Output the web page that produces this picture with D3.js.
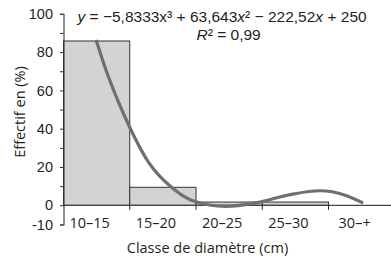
<!DOCTYPE html>
<html><head><meta charset="utf-8">
<script src="https://cdn.jsdelivr.net/npm/d3@7/dist/d3.min.js"></script>
<style>
html,body{margin:0;padding:0;background:#fff;}
svg{display:block;}
</style></head>
<body>
<svg id="c" width="391" height="264"></svg>
<script>
const categories = ["10–15","15–20","20–25","25–30","30–+"];
const values = [85.8, 9.4, 1.7, 1.7, 0];
const yTickValues = [-10,0,10,20,30,40,50,60,70,80,90,100];
const yTickLabels = [-10,0,20,40,60,80,100];
// trend curve (x in class index, y in %)
const curveX = [1.0, 1.13, 1.33, 1.51, 1.79, 2.17, 2.47, 2.95, 3.43, 3.93, 4.38, 4.76, 5.03];
const curveY = [86.3, 72.5, 54.5, 40.5, 22.5, 8.5, 2.2, -0.6, 1.4, 5.6, 7.6, 5.3, 1.2];
const equation = "y = −5,8333x³ + 63,643x² − 222,52x + 250";
const rSquared = "R² = 0,99";
const xTitle = "Classe de diamètre (cm)";
const yTitle = "Effectif en (%)";

const svg = d3.select("#c");
const left = 63, bw = 66.25;
const right = left + bw * categories.length;
const y = d3.scaleLinear().domain([-10, 100]).range([224.45, 13.8]);
const x = d3.scaleBand().domain(categories).range([left, right]).padding(0);
const xc = d3.scaleLinear().domain([0.5, categories.length + 0.5]).range([left, right]);

const txt = "#231f20";
const sans = "'Open Sans', 'Noto Sans', sans-serif";
const arial = "'Liberation Sans', Arial, sans-serif";

// bars
svg.append("g").selectAll("rect").data(categories.map((c,i)=>({c, v: values[i]})).filter(d=>d.v>0))
  .join("rect")
  .attr("x", d => x(d.c) + 0.5)
  .attr("y", d => y(d.v))
  .attr("width", x.bandwidth())
  .attr("height", d => y(0) - y(d.v))
  .attr("fill", "#d3d3d5")
  .attr("stroke", "#333")
  .attr("stroke-width", 1);

// x axis line at 0
svg.append("line")
  .attr("x1", left).attr("x2", 391)
  .attr("y1", y(0)).attr("y2", y(0))
  .attr("stroke", "#444").attr("stroke-width", 1.2);

// x ticks at class boundaries
svg.append("g").selectAll("line").data(categories.slice(1))
  .join("line")
  .attr("x1", d => x(d) + 0.5).attr("x2", d => x(d) + 0.5)
  .attr("y1", y(0)).attr("y2", y(0) + 4.5)
  .attr("stroke", "#222").attr("stroke-width", 1);

// x labels
svg.append("g").selectAll("text").data(categories)
  .join("text")
  .attr("x", d => x(d) + x.bandwidth()/2 - 6.5)
  .attr("y", 228)
  .attr("text-anchor", "middle")
  .attr("font-family", sans).attr("font-size", 14.5)
  .attr("fill", txt)
  .text(d => d);

// y axis
const yAxis = d3.axisLeft(y).tickValues(yTickValues).tickSize(3.5).tickSizeOuter(3.5)
  .tickFormat(d => yTickLabels.includes(d) ? String(d) : "");
const gy = svg.append("g").attr("transform", `translate(${left + 0.5},0)`).call(yAxis);
gy.select(".domain").attr("stroke", "#333").attr("stroke-width", 1.1);
gy.selectAll(".tick line").attr("stroke", "#333");
gy.selectAll(".tick text")
  .attr("font-family", arial).attr("font-size", 14.5).attr("fill", txt)
  .attr("x", -10.5);

// trend curve
const pts = curveX.map((v,i)=>[xc(v), y(curveY[i])]);
svg.append("path")
  .attr("d", d3.line().curve(d3.curveMonotoneX)(pts))
  .attr("fill", "none")
  .attr("stroke", "#6f6f71")
  .attr("stroke-width", 3.2)
  .attr("stroke-linecap", "butt");

// equation
const eq = svg.append("text").attr("x", 77.5).attr("y", 21.5)
  .attr("font-family", arial).attr("font-size", 15.5).attr("fill", txt);
eq.append("tspan").attr("font-style","italic").text("y");
eq.append("tspan").text(" = −5,8333x³ + 63,643");
eq.append("tspan").attr("font-style","italic").text("x");
eq.append("tspan").text("² − 222,52");
eq.append("tspan").attr("font-style","italic").text("x");
eq.append("tspan").text(" + 250");

const r2 = svg.append("text").attr("x", 196.5).attr("y", 39.5)
  .attr("font-family", arial).attr("font-size", 15.5).attr("fill", txt);
r2.append("tspan").attr("font-style","italic").text("R");
r2.append("tspan").text("² = 0,99");

// axis titles
svg.append("text")
  .attr("x", 207.5).attr("y", 253)
  .attr("text-anchor", "middle")
  .attr("font-family", sans).attr("font-size", 14.5).attr("fill", txt)
  .text(xTitle);

svg.append("text")
  .attr("transform", "translate(25,112) rotate(-90)")
  .attr("text-anchor", "middle")
  .attr("font-family", sans).attr("font-size", 14.5).attr("fill", txt)
  .text(yTitle);
</script>
</body></html>
